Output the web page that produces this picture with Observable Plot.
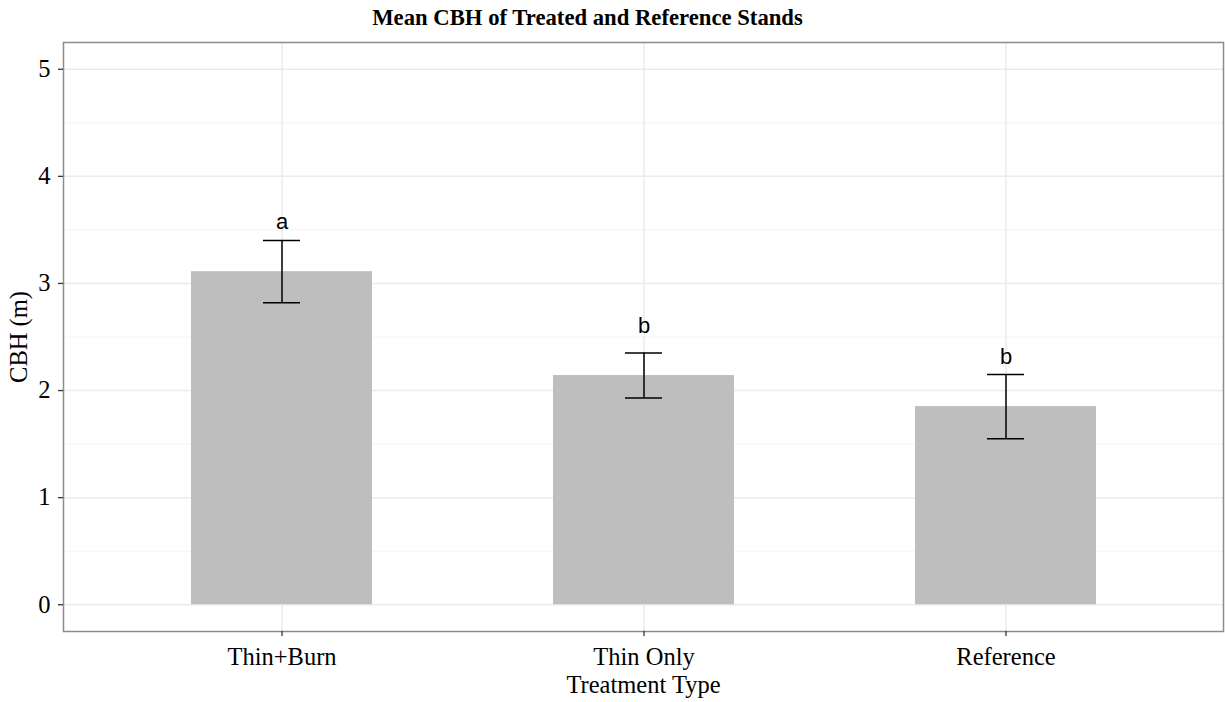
<!DOCTYPE html>
<html>
<head>
<meta charset="utf-8">
<script src="https://cdn.jsdelivr.net/npm/d3@7"></script>
<script src="https://cdn.jsdelivr.net/npm/@observablehq/plot@0.6"></script>
<style>
  html, body { margin: 0; padding: 0; background: #fff; }
  #title { width: 1225px; height: 30px; line-height: 36px; overflow: visible; box-sizing: border-box; padding-right: 50px;
           text-align: center; font-family: "Liberation Serif", serif; font-weight: bold; font-size: 22.7px; color: #000; }
  svg { display: block; }
</style>
</head>
<body>
<div id="title">Mean CBH of Treated and Reference Stands</div>
<div id="chart"></div>
<script>
const categories = ["Thin+Burn", "Thin Only", "Reference"];
const means = [3.11, 2.14, 1.85];
const stdErrors = [0.29, 0.21, 0.30];
const letters = ["a", "b", "b"];
const yTicks = [0, 1, 2, 3, 4, 5];
const yMinor = [0.5, 1.5, 2.5, 3.5, 4.5];
const letterOffset = 0.4;

const data = categories.map((c, i) => ({
  cat: c,
  mean: means[i],
  lo: means[i] - stdErrors[i],
  hi: means[i] + stdErrors[i],
  letter: letters[i],
  ly: means[i] + letterOffset
}));

const chart = Plot.plot({
  width: 1225,
  height: 672,
  marginLeft: 63,
  marginRight: 2,
  marginTop: 12,
  marginBottom: 71,
  style: { fontFamily: "Liberation Serif, serif", fontSize: "24.5px", color: "#000", background: "#fff" },
  x: { domain: categories, paddingInner: 0.5, paddingOuter: 0.35 },
  y: { domain: [-0.25, 5.25] },
  marks: [
    Plot.gridY(yMinor, { stroke: "#f4f4f4", strokeOpacity: 1, strokeWidth: 1 }),
    Plot.gridY(yTicks, { stroke: "#ebebeb", strokeOpacity: 1, strokeWidth: 1.5 }),
    Plot.gridX(categories, { stroke: "#ebebeb", strokeOpacity: 1, strokeWidth: 1.5 }),
    Plot.barY(data, { x: "cat", y: "mean", fill: "#bebebe" }),
    Plot.ruleX(data, { x: "cat", y1: "lo", y2: "hi", stroke: "#000", strokeWidth: 1.5 }),
    Plot.tickY(data, { x: "cat", y: "lo", stroke: "#000", strokeWidth: 1.5, insetLeft: 72, insetRight: 72 }),
    Plot.tickY(data, { x: "cat", y: "hi", stroke: "#000", strokeWidth: 1.5, insetLeft: 72, insetRight: 72 }),
    Plot.text(data, { x: "cat", y: "ly", text: "letter", fontFamily: "Liberation Sans, Arial, sans-serif", fontSize: 22, fill: "#000", dy: -7 }),
    Plot.frame({ stroke: "#8c8c8c", strokeWidth: 1.5 }),
    Plot.axisY(yTicks, { tickSize: 5, tickPadding: 8, strokeWidth: 1.3, stroke: "#333", fontSize: 24.5, tickFormat: d3.format("d"), label: "CBH (m)", labelAnchor: "center", labelOffset: 54, labelArrow: "none" }),
    Plot.axisX({ tickSize: 5, tickPadding: 11, strokeWidth: 1.3, stroke: "#333", fontSize: 24.5, label: "Treatment Type", labelAnchor: "center", labelOffset: 61, labelArrow: "none" })
  ]
});
document.getElementById("chart").appendChild(chart);
</script>
</body>
</html>
